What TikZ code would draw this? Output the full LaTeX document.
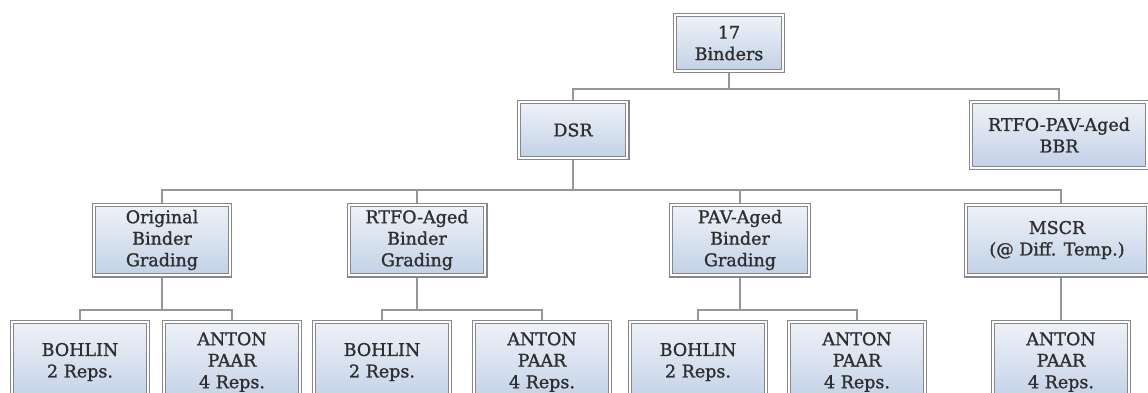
\documentclass[tikz,border=0pt]{standalone}
\usepackage{fontspec}
\newfontfamily\boxfont{DejaVu Serif}[FakeBold=1.2]
\usetikzlibrary{backgrounds}
\definecolor{boxgray}{HTML}{85878C}
\definecolor{linegray}{HTML}{979797}
\definecolor{txtgray}{HTML}{2E2E2E}
\definecolor{filltop}{HTML}{EEF2F8}
\definecolor{fillbot}{HTML}{C2D1E6}
\tikzset{
  box/.style={draw=boxgray, double=white, double distance=2pt, line width=1.2pt,
    top color=filltop, bottom color=fillbot, inner sep=0pt, align=center,
    font=\boxfont\fontsize{17.5}{21.5}\selectfont, text=txtgray},
  conn/.style={draw=linegray, line width=1.8pt}
}
\begin{document}
\begin{tikzpicture}[x=1pt,y=-1pt]
\path[use as bounding box] (0,0) rectangle (1148,392);
\clip (0,0) rectangle (1148,392);
% level 0
\node[box, minimum width=107.6, minimum height=55.6] (top) at (729,43) {17\\Binders};
% level 1
\node[box, minimum width=108.6, minimum height=55.6] (dsr) at (573,130) {DSR};
\node[box, minimum width=175.6, minimum height=65.6] (bbr) at (1059,135) {RTFO-PAV-Aged\\BBR};
% level 2
\node[box, minimum width=135.6, minimum height=70.6] (orig) at (162,240) {Original\\Binder\\Grading};
\node[box, minimum width=136.6, minimum height=70.6] (rtfo) at (417,240) {RTFO-Aged\\Binder\\Grading};
\node[box, minimum width=137.6, minimum height=70.6] (pav) at (740,240) {PAV-Aged\\Binder\\Grading};
\node[box, minimum width=181.6, minimum height=70.6] (mscr) at (1057,240) {MSCR\\(@ Diff. Temp.)};
% level 3
\node[box, minimum width=135.6, minimum height=79.6] (b1) at (80,362) {BOHLIN\\2 Reps.};
\node[box, minimum width=135.6, minimum height=79.6] (a1) at (232,362) {ANTON\\PAAR\\4 Reps.};
\node[box, minimum width=135.6, minimum height=79.6] (b2) at (382,362) {BOHLIN\\2 Reps.};
\node[box, minimum width=135.6, minimum height=79.6] (a2) at (542,362) {ANTON\\PAAR\\4 Reps.};
\node[box, minimum width=135.6, minimum height=79.6] (b3) at (698,362) {BOHLIN\\2 Reps.};
\node[box, minimum width=135.6, minimum height=79.6] (a3) at (857,362) {ANTON\\PAAR\\4 Reps.};
\node[box, minimum width=135.6, minimum height=79.6] (a4) at (1061,362) {ANTON\\PAAR\\4 Reps.};
% junctions
\coordinate (j1) at (729,89);
\coordinate (j2) at (573,190);
\coordinate (j3) at (162,310);
\coordinate (j4) at (417,310);
\coordinate (j5) at (740,310);
\begin{scope}[on background layer]
\fill[white] (0,0) rectangle (1148,392);
\draw[conn] (top.south) -- (j1);
\draw[conn] (dsr.north) |- (j1) -| (bbr.north);
\draw[conn] (dsr.south) -- (j2);
\draw[conn] (orig.north) |- (j2) -| (mscr.north -| a4.north);
\draw[conn] (rtfo.north) -- (rtfo.north |- j2);
\draw[conn] (pav.north) -- (pav.north |- j2);
\draw[conn] (orig.south) -- (j3);
\draw[conn] (b1.north) |- (j3) -| (a1.north);
\draw[conn] (rtfo.south) -- (j4);
\draw[conn] (b2.north) |- (j4) -| (a2.north);
\draw[conn] (pav.south) -- (j5);
\draw[conn] (b3.north) |- (j5) -| (a3.north);
\draw[conn] (a4.north) -- (a4.north |- mscr.south);
\end{scope}
\end{tikzpicture}
\end{document}
